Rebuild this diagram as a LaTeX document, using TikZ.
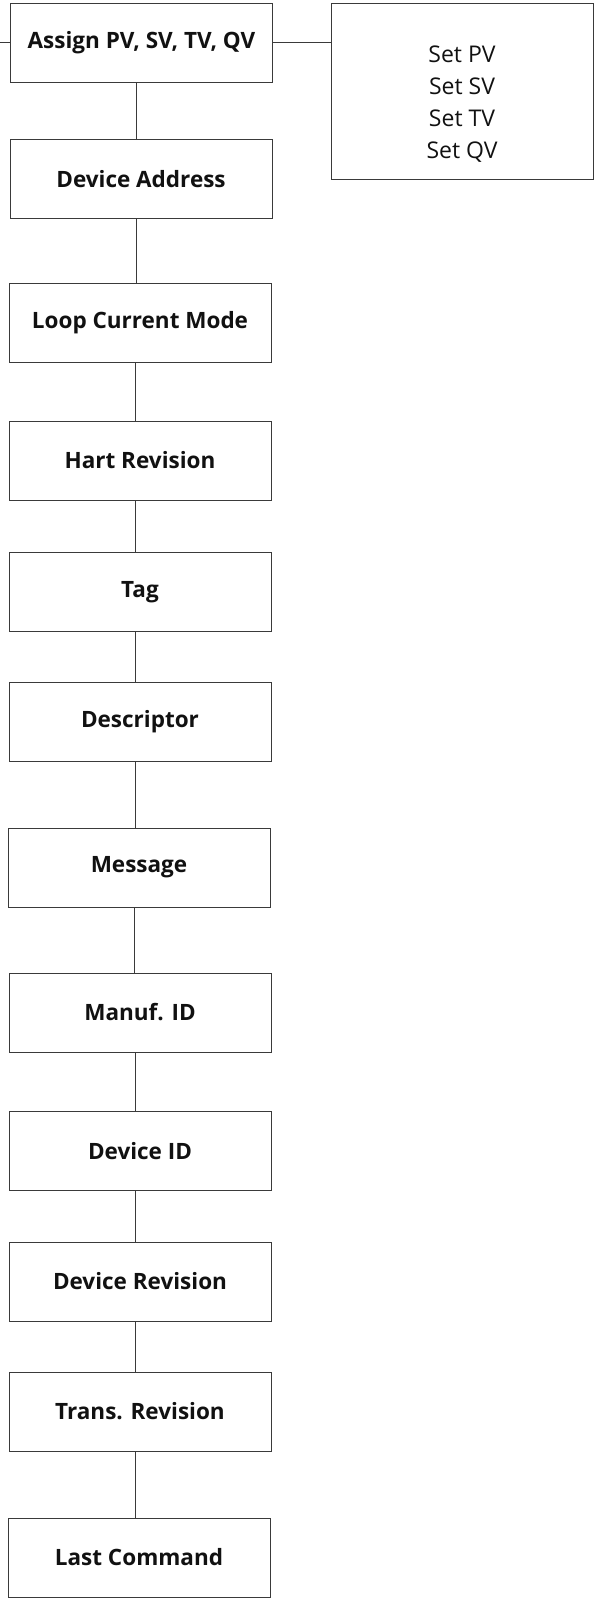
\documentclass[tikz,border=0pt]{standalone}
\usepackage{fontspec}
\setmainfont{Open Sans}
\usetikzlibrary{positioning}
\definecolor{hartLine}{HTML}{3A3A3A}
\definecolor{hartInk}{HTML}{111111}
\tikzset{
  menubox/.style={draw=hartLine, line width=1pt, minimum width=262pt, minimum height=79pt,
    inner sep=0pt, text=hartInk, font=\fontsize{22.5}{24}\selectfont\bfseries},
  link/.style={draw=hartLine, line width=1pt}
}
\begin{document}
\begin{tikzpicture}[x=1pt,y=-1pt]
    \useasboundingbox (0,0) rectangle (594,1600);
    \node[menubox] (assign) at (141.5,43) {Assign PV, SV, TV, QV};
    \node[menubox, minimum height=175pt] (setbox) at (462,91.5) {};
    \node[align=center, text=hartInk, font=\fontsize{23}{32}\selectfont] (setlist) at (462,104) {Set PV\\Set SV\\Set TV\\Set QV};
    \node[menubox] (address) at (141,179) {Device Address};
    \node[menubox] (loop) at (140,322.5) {Loop Current Mode};
    \node[menubox] (hart) at (140,460.5) {Hart Revision};
    \node[menubox] (tag) at (140,592) {Tag};
    \node[menubox] (descriptor) at (140,721.5) {Descriptor};
    \node[menubox] (message) at (139,867.5) {Message};
    \node[menubox] (manuf) at (140,1012.5) {Manuf. ID};
    \node[menubox] (devid) at (140,1151) {Device ID};
    \node[menubox] (devrev) at (140,1281.5) {Device Revision};
    \node[menubox] (transrev) at (140,1411.5) {Trans. Revision};
    \node[menubox] (lastcmd) at (139,1557.5) {Last Command};
    \coordinate (entry) at (0,43);
    \draw[link] (entry) -- (assign.west);
    \draw[link] (assign.east) -- (setbox.west |- assign.east);
    \foreach \a/\b in {assign/address,address/loop,loop/hart,hart/tag,tag/descriptor,
        descriptor/message,message/manuf,manuf/devid,devid/devrev,devrev/transrev,transrev/lastcmd}
      \draw[link] ([xshift=-5pt]\a.south) -- ([xshift=-5pt]\a.south |- \b.north);
\end{tikzpicture}
\end{document}
